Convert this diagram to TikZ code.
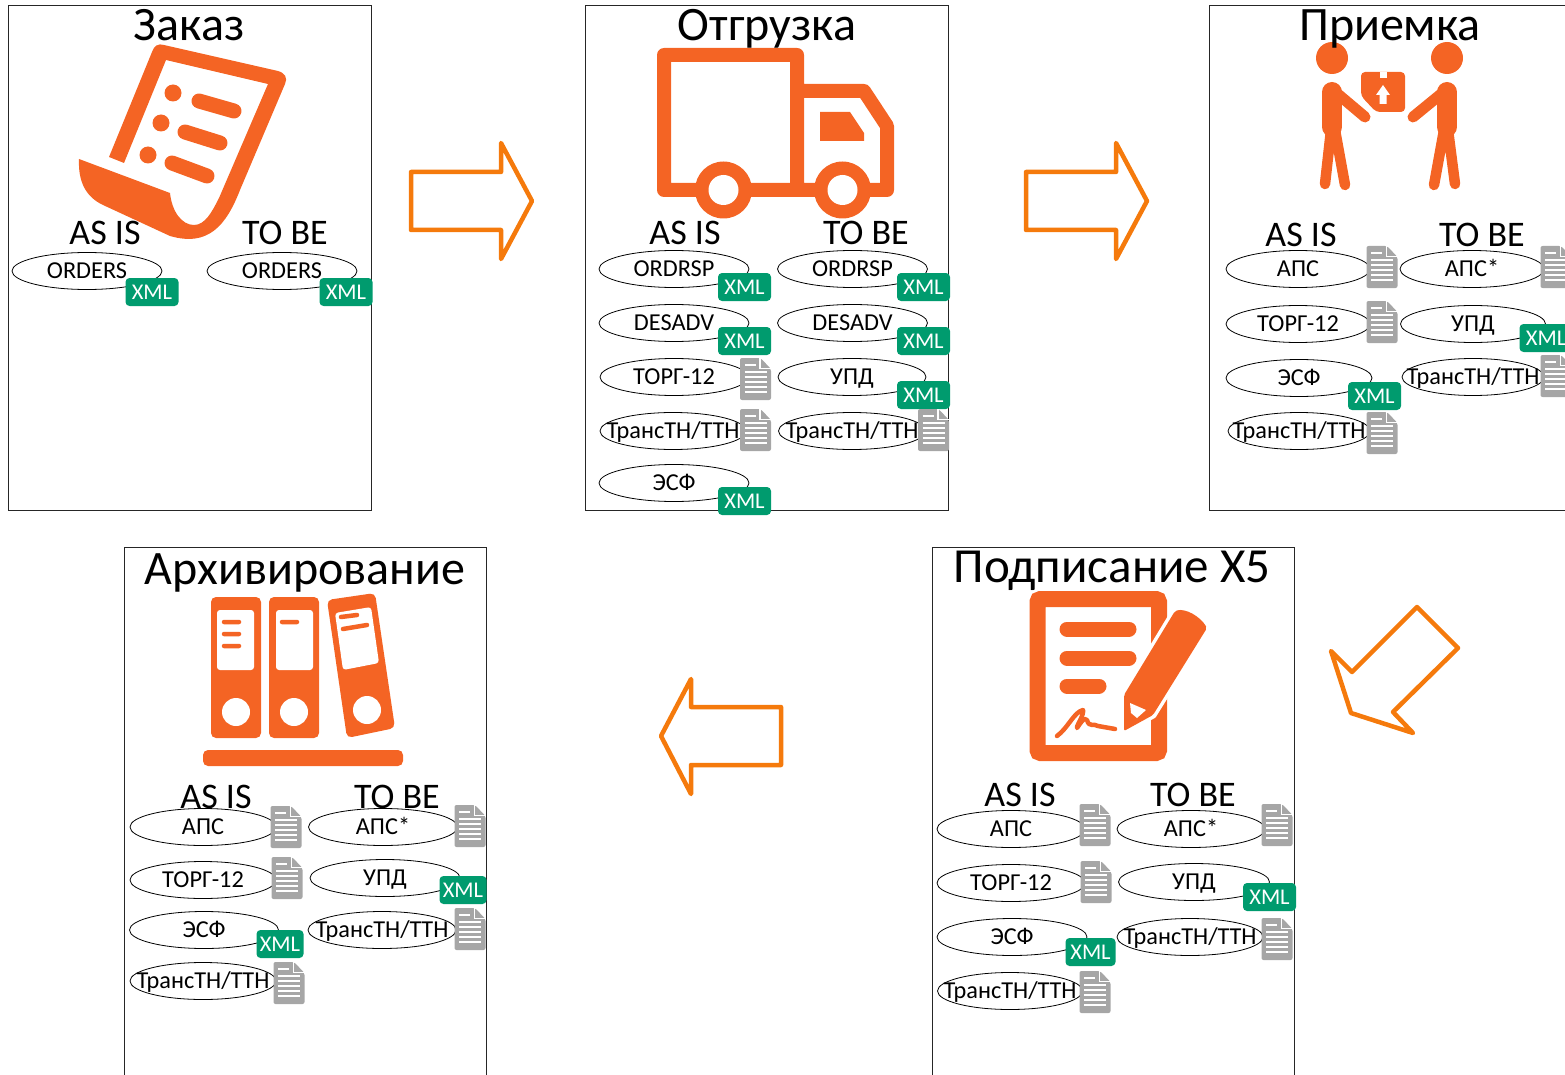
\documentclass[tikz,border=0pt]{standalone}
\usepackage{fontspec}
\setmainfont{Carlito}
\usetikzlibrary{shapes.geometric}
\definecolor{iconorange}{RGB}{244,100,36}
\definecolor{arroworange}{RGB}{245,122,12}
\definecolor{xmlgreen}{RGB}{0,155,110}
\definecolor{docgray}{RGB}{166,166,166}
\newcommand{\ovaltext}[1]{\makebox[0pt]{#1}}
\newcommand{\docicon}[2]{
    \begin{scope}[shift={(#2)}]
        \coordinate (#1) at (0,0);
        \fill[docgray, rounded corners=2pt] (-15.5,-21) -- (5,-21) -- (15.5,-10) -- (15.5,21) -- (-15.5,21) -- cycle;
        \draw[white, line width=1.2pt] (4.5,-21) -- (4.5,-10.5) -- (15.5,-10.5);
        \draw[white, line width=1.2pt] (-11,-14) -- (0,-14);
        \foreach \ly in {-7,-2,3,8,13} {
            \draw[white, line width=1.2pt] (-11,\ly) -- (11,\ly);
        }
    \end{scope}
}
\tikzset{
    panelbox/.style={draw=black!85, line width=1pt},
    paneltitle/.style={font=\fontsize{48}{48}\selectfont, inner sep=0, anchor=base},
    columnhead/.style={font=\fontsize{36}{36}\selectfont, inner sep=0},
    docoval/.style={ellipse, draw=black, line width=0.8pt, inner sep=0, minimum height=37pt, text height=20.5pt, text depth=5pt, font=\fontsize{24.3}{24.3}\selectfont},
    xmlbox/.style={fill=xmlgreen, rounded corners=4pt, minimum width=53pt, minimum height=28pt, inner sep=0, text=white, font=\fontsize{22.5}{22.5}\selectfont},
    blockarrow/.style={draw=arroworange, fill=white, line width=4.5pt, line join=round},
    iconline/.style={draw=iconorange, line cap=round, line join=round},
}
\begin{document}
\begin{tikzpicture}[x=1pt, y=-1pt]
    \useasboundingbox (0,0) rectangle (1565,1075);
    \clip (0,0) rectangle (1565,1075);
    % Add panels
    \draw[panelbox] (8.5,6) rectangle (371,510);
    \draw[panelbox] (585.5,6) rectangle (948,510);
    \draw[panelbox] (1209,6) rectangle (1580,510);
    \draw[panelbox] (124,547) rectangle (486.5,1090);
    \draw[panelbox] (932,547) rectangle (1294.5,1090);
    % Add arrows
    \draw[blockarrow] (411,172) -- (501,172) -- (501,143) -- (532,201) -- (501,259) -- (501,230) -- (411,230) -- cycle;
    \draw[blockarrow] (1026,172) -- (1116,172) -- (1116,143) -- (1147,201) -- (1116,259) -- (1116,230) -- (1026,230) -- cycle;
    \draw[blockarrow] (1417,607) -- (1458,648) -- (1393,712) -- (1413,733) -- (1351,713) -- (1331,651) -- (1352,672) -- cycle;
    \draw[blockarrow] (781,707) -- (691,707) -- (691,679) -- (661,736) -- (691,794) -- (691,765) -- (781,765) -- cycle;
    % Add scroll icon
    \fill[iconorange] (109,157) -- (152,52) .. controls (154,46) and (158,43) .. (164,45)
        -- (278,71) .. controls (285,73) and (288,78) .. (285,84)
        -- (240,190) .. controls (226,226) and (208,247) .. (170,236)
        -- (103,205) .. controls (86,197) and (78,182) .. (79,159)
        -- (170,193) .. controls (172,212) and (182,225) .. (194,225)
        .. controls (205,225) and (212,212) .. (219,198)
        -- (268,84) -- (166,60) -- (124,163) -- cycle;
    \fill[iconorange] (173,93) circle (8.5) (161,123) circle (8.5) (148,155) circle (8.5);
    \draw[iconline, line width=15pt] (199,101) -- (234,111) (185,132) -- (220,143) (172,163) -- (207,176);
    % Add truck icon
    \draw[iconline, line width=14pt] (664,55) -- (797,55) -- (797,190) (797,91) -- (864,91) -- (887,126) -- (887,190) -- (664,190) -- (664,55);
    \fill[iconorange] (723.5,190) circle (28.5) (842.5,190) circle (28.5);
    \fill[white] (723.5,190) circle (15) (842.5,190) circle (15);
    \fill[iconorange] (820,112) -- (850,112) -- (864,133) -- (864,141) -- (820,141) -- cycle;
    % Add people icon
    \fill[iconorange] (1332,58) circle (16) (1447,58) circle (16);
    \draw[iconline, line width=20pt] (1332,92) -- (1332,127) (1447,92) -- (1447,127);
    \draw[iconline, line width=11pt] (1333,90) -- (1365,117) (1446,90) -- (1413,117);
    \draw[iconline, line width=10.5pt] (1331,130) -- (1325,184) (1335,130) -- (1345,185) (1448,130) -- (1455,184) (1444,130) -- (1434,185);
    \fill[iconorange, rounded corners=4pt] (1361,72) -- (1405,72) -- (1405,112) -- (1376,112) -- (1361,96) -- cycle;
    \fill[white] (1380,72) rectangle (1387,78);
    \fill[white] (1383,85) -- (1376,95) -- (1379.5,95) -- (1379.5,104) -- (1386.5,104) -- (1386.5,95) -- (1390,95) -- cycle;
    % Add binder icon
    \fill[iconorange, rounded corners=5pt] (211,597) rectangle (261,738);
    \fill[iconorange, rounded corners=5pt] (269,597) rectangle (319,738);
    \fill[iconorange, rounded corners=5pt] (327,600) -- (375,593) -- (395,728) -- (347,738) -- cycle;
    \fill[white, rounded corners=3pt] (217,610) rectangle (254,670);
    \fill[white, rounded corners=3pt] (276,610) rectangle (313,670);
    \fill[white, rounded corners=3pt] (335,613) -- (371,607) -- (379,663) -- (343,670) -- cycle;
    \fill[white] (236,712) circle (14) (294,712) circle (14) (367,710) circle (14);
    \draw[iconline, line width=4.5pt] (224,622) -- (239,622) (224,634) -- (239,634) (224,646) -- (239,646) (282,622) -- (297,622) (341,617) -- (357,615) (343,629) -- (367,625);
    \fill[iconorange, rounded corners=5pt] (203,750) rectangle (403,766);
    % Add signature icon
    \draw[iconline, line width=16pt, line cap=butt, line join=miter, rounded corners=3pt] (1037.5,599) rectangle (1159,753);
    \draw[iconline, line width=15pt] (1067,629) -- (1129,629) (1067,658) -- (1129,658) (1067,686) -- (1099,686);
    \draw[white, fill=iconorange, line width=7pt, line join=round] (1124,695) -- (1175,611) .. controls (1185,608) and (1200,616) .. (1207,628) -- (1153,715) -- (1124,731) -- cycle;
    \fill[iconorange, rounded corners=2pt] (1124,695) -- (1175,611) .. controls (1185,608) and (1200,616) .. (1207,628) -- (1153,715) -- (1124,731) -- cycle;
    \fill[white] (1130,703) -- (1146,710) -- (1137,718) -- (1131,713) -- cycle;
    \draw[iconline, line width=4.5pt] (1057,736) .. controls (1068,728) and (1074,712) .. (1083,710) .. controls (1084,716) and (1076,726) .. (1077,728) .. controls (1080,724) and (1084,716) .. (1087,720) .. controls (1089,728) and (1094,723) .. (1098,726) -- (1115,729);
    % Add titles
    \node[paneltitle] (orderTitle) at (189,41) {Заказ};
    \node[paneltitle] (shipTitle) at (767,41) {Отгрузка};
    \node[paneltitle] (receiveTitle) at (1390,41) {Приемка};
    \node[paneltitle] (archiveTitle) at (305,584) {Архивирование};
    \node[paneltitle, font=\fontsize{49}{49}\selectfont] (signTitle) at (1112,582) {Подписание X5};
    % Add column heads
    \node[columnhead] (orderAs) at (105,233) {AS IS};
    \node[columnhead] (orderTo) at (285,233) {TO BE};
    \node[columnhead] (shipAs) at (685,233) {AS IS};
    \node[columnhead] (shipTo) at (866,233) {TO BE};
    \node[columnhead] (receiveAs) at (1301,235) {AS IS};
    \node[columnhead] (receiveTo) at (1482,235) {TO BE};
    \node[columnhead] (archiveAs) at (216,797) {AS IS};
    \node[columnhead] (archiveTo) at (397,797) {TO BE};
    \node[columnhead] (signAs) at (1020,795) {AS IS};
    \node[columnhead] (signTo) at (1193,795) {TO BE};
    % Add order documents
    \node[docoval, minimum width=150pt] (orderOrdersA) at (87,271) {\ovaltext{ORDERS}};
    \node[xmlbox] (orderOrdersAx) at (152,292) {XML};
    \node[docoval, minimum width=150pt] (orderOrdersB) at (282,271) {\ovaltext{ORDERS}};
    \node[xmlbox] (orderOrdersBx) at (346,292) {XML};
    % Add shipment documents
    \node[docoval, minimum width=150pt] (shipOrdrspA) at (674,269) {\ovaltext{ORDRSP}};
    \node[xmlbox] (shipOrdrspAx) at (744.5,287) {XML};
    \node[docoval, minimum width=150pt] (shipDesadvA) at (674,323) {\ovaltext{DESADV}};
    \node[xmlbox] (shipDesadvAx) at (744.5,341) {XML};
    \node[docoval, minimum width=148pt] (shipTorgA) at (674,377) {\ovaltext{ТОРГ-12}};
    \docicon{shipTorgAd}{755.5,379}
    \node[docoval, minimum width=146pt] (shipTtnA) at (673,431) {\ovaltext{ТрансТН/ТТН}};
    \docicon{shipTtnAd}{755.5,430}
    \node[docoval, minimum width=150pt] (shipEsfA) at (674,483) {\ovaltext{ЭСФ}};
    \node[xmlbox] (shipEsfAx) at (744.5,501) {XML};
    \node[docoval, minimum width=150pt] (shipOrdrspB) at (852.5,269) {\ovaltext{ORDRSP}};
    \node[xmlbox] (shipOrdrspBx) at (923.5,287) {XML};
    \node[docoval, minimum width=150pt] (shipDesadvB) at (852.5,323) {\ovaltext{DESADV}};
    \node[xmlbox] (shipDesadvBx) at (923.5,341) {XML};
    \node[docoval, minimum width=148pt] (shipUpdB) at (852,377) {\ovaltext{УПД}};
    \node[xmlbox] (shipUpdBx) at (923.5,395) {XML};
    \node[docoval, minimum width=147pt] (shipTtnB) at (852,431) {\ovaltext{ТрансТН/ТТН}};
    \docicon{shipTtnBd}{933.5,430}
    % Add receipt documents
    \node[docoval, minimum width=144pt] (receiveApsA) at (1298,269) {\ovaltext{АПС}};
    \docicon{receiveApsAd}{1382,267}
    \node[docoval, minimum width=144pt] (receiveTorgA) at (1298,324) {\ovaltext{ТОРГ-12}};
    \docicon{receiveTorgAd}{1382,322}
    \node[docoval, minimum width=146pt] (receiveEsfA) at (1299,378) {\ovaltext{ЭСФ}};
    \node[xmlbox] (receiveEsfAx) at (1374.5,396) {XML};
    \node[docoval, minimum width=142pt] (receiveTtnA) at (1299,431) {\ovaltext{ТрансТН/ТТН}};
    \docicon{receiveTtnAd}{1382,433}
    \node[docoval, minimum width=144pt] (receiveApsB) at (1472,269) {\ovaltext{АПС*}};
    \docicon{receiveApsBd}{1556,267}
    \node[docoval, minimum width=145pt] (receiveUpdB) at (1473,324) {\ovaltext{УПД}};
    \node[xmlbox] (receiveUpdBx) at (1546,338) {XML};
    \node[docoval, minimum width=142pt] (receiveTtnB) at (1473,377) {\ovaltext{ТрансТН/ТТН}};
    \docicon{receiveTtnBd}{1556,376}
    % Add archive documents
    \node[docoval, minimum width=146pt] (archiveApsA) at (203,827) {\ovaltext{АПС}};
    \docicon{archiveApsAd}{286,827}
    \node[docoval, minimum width=146pt] (archiveTorgA) at (203,880) {\ovaltext{ТОРГ-12}};
    \docicon{archiveTorgAd}{287,878}
    \node[docoval, minimum width=149pt] (archiveEsfA) at (204,930) {\ovaltext{ЭСФ}};
    \node[xmlbox, minimum width=47pt] (archiveEsfAx) at (280,944) {XML};
    \node[docoval, minimum width=146pt] (archiveTtnA) at (203,981) {\ovaltext{ТрансТН/ТТН}};
    \docicon{archiveTtnAd}{289,983}
    \node[docoval, minimum width=149pt] (archiveApsB) at (383,827) {\ovaltext{АПС*}};
    \docicon{archiveApsBd}{470,826}
    \node[docoval, minimum width=150pt] (archiveUpdB) at (385,878) {\ovaltext{УПД}};
    \node[xmlbox, minimum width=47pt] (archiveUpdBx) at (463,890) {XML};
    \node[docoval, minimum width=148pt] (archiveTtnB) at (382,930) {\ovaltext{ТрансТН/ТТН}};
    \docicon{archiveTtnBd}{470,929}
    % Add signing documents
    \node[docoval, minimum width=148pt] (signApsA) at (1011,829) {\ovaltext{АПС}};
    \docicon{signApsAd}{1095,825}
    \node[docoval, minimum width=148pt] (signTorgA) at (1011,883) {\ovaltext{ТОРГ-12}};
    \docicon{signTorgAd}{1096,882}
    \node[docoval, minimum width=150pt] (signEsfA) at (1012,937) {\ovaltext{ЭСФ}};
    \node[xmlbox, minimum width=50pt] (signEsfAx) at (1090.5,952) {XML};
    \node[docoval, minimum width=145pt] (signTtnA) at (1010,991) {\ovaltext{ТрансТН/ТТН}};
    \docicon{signTtnAd}{1095,992}
    \node[docoval, minimum width=148pt] (signApsB) at (1191,829) {\ovaltext{АПС*}};
    \docicon{signApsBd}{1277,825}
    \node[docoval, minimum width=151pt] (signUpdB) at (1194,882) {\ovaltext{УПД}};
    \node[xmlbox] (signUpdBx) at (1269.5,897) {XML};
    \node[docoval, minimum width=146pt] (signTtnB) at (1190,937) {\ovaltext{ТрансТН/ТТН}};
    \docicon{signTtnBd}{1277,939}
\end{tikzpicture}
\end{document}
